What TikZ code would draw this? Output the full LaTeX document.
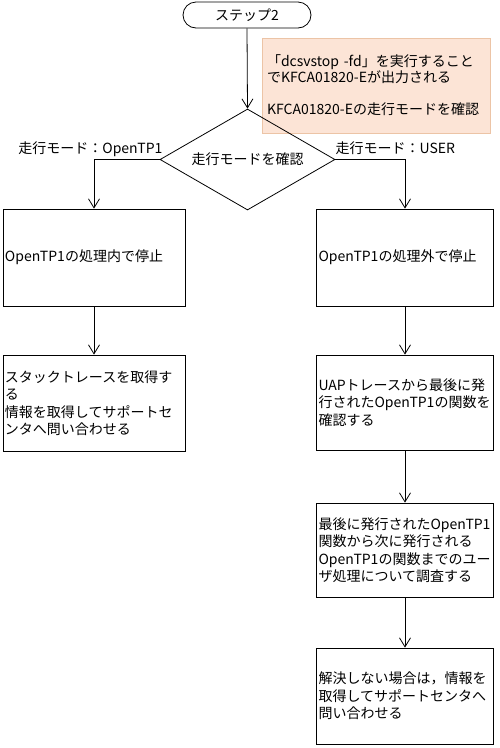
\documentclass[tikz,border=0pt]{standalone}
\usepackage{fontspec}
\setmainfont{Noto Sans CJK JP}
\usetikzlibrary{arrows.meta,shapes.geometric}
\definecolor{notefill}{RGB}{252,228,214}
\definecolor{notedraw}{RGB}{236,196,166}
\begin{document}
\begin{tikzpicture}[x=1pt,y=-1pt,
  every node/.style={font=\fontsize{14}{17.5}\selectfont},
  line/.style={draw,line width=0.8pt},
  arr/.style={line,-{Straight Barb[length=9pt,width=11pt,line width=0.8pt]}},
  procbox/.style={draw,line width=0.8pt,rectangle,inner xsep=2pt,inner ysep=0pt,align=left},
  lbl/.style={inner sep=0pt}
]
\useasboundingbox (0,0) rectangle (500,748);
% start terminal
\node[draw,line width=0.8pt,rectangle,rounded corners=13pt,minimum width=128pt,minimum height=26pt,inner sep=0pt] (start) at (247,15) {ステップ2};
% note
\node[rectangle,fill=notefill,draw=notedraw,line width=0.8pt,minimum width=228pt,minimum height=95pt,inner xsep=5pt,inner ysep=0pt,text width=218pt,align=left,font=\fontsize{14}{16}\selectfont] (note) at (376,85.5)
  {「dcsvstop -fd」を実行すること\\でKFCA01820-Eが出力される\\[16pt]KFCA01820-Eの走行モードを確認};
% decision
\node[draw,line width=0.8pt,diamond,minimum width=175pt,minimum height=101pt,inner sep=0pt,shape aspect=1.75] (dec) at (247.5,159.5) {走行モードを確認};
% left column
\node[procbox,minimum width=182pt,minimum height=97pt,text width=178pt] (l1) at (94,257.5) {OpenTP1の処理内で停止};
\node[procbox,minimum width=182pt,minimum height=96pt,text width=178pt] (l2) at (94,403) {スタックトレースを取得す\\る\\情報を取得してサポートセ\\ンタへ問い合わせる};
% right column
\node[procbox,minimum width=177pt,minimum height=97pt,text width=173pt] (r1) at (405,257.5) {OpenTP1の処理外で停止};
\node[procbox,minimum width=177pt,minimum height=95pt,text width=173pt] (r2) at (405,402.5) {UAPトレースから最後に発\\行されたOpenTP1の関数を\\確認する};
\node[procbox,minimum width=177pt,minimum height=94pt,text width=173pt] (r3) at (405,550) {最後に発行されたOpenTP1\\関数から次に発行される\\OpenTP1の関数までのユー\\ザ処理について調査する};
\node[procbox,minimum width=177pt,minimum height=96pt,text width=173pt] (r4) at (405,696) {解決しない場合は，情報を\\取得してサポートセンタへ\\問い合わせる};
% connectors
\draw[arr] (start.south) -- (dec.north);
\draw[arr] (dec.west) -| (l1.north);
\draw[arr] (dec.east) -| (r1.north);
\draw[arr] (l1.south) -- (l2.north);
\draw[arr] (r1.south) -- (r2.north);
\draw[arr] (r2.south) -- (r3.north);
\draw[arr] (r3.south) -- (r4.north);
% labels
\node[lbl,anchor=base east] (lblL) at ([xshift=3pt,yshift=6pt]dec.west) {走行モード：OpenTP1};
\node[lbl,anchor=base west] (lblR) at ([xshift=0pt,yshift=6pt]dec.east) {走行モード：USER};
\end{tikzpicture}
\end{document}
